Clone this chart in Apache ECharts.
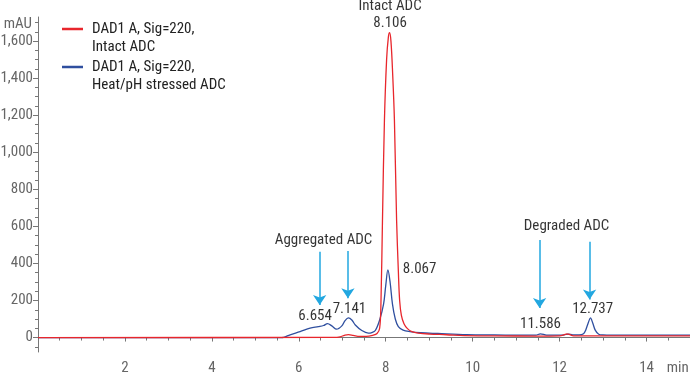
<!DOCTYPE html>
<html>
<head>
<meta charset="utf-8">
<script src="https://cdn.jsdelivr.net/npm/echarts@6.0.0/dist/echarts.min.js"></script>
<style>html,body{margin:0;padding:0;background:#fff;}#c{width:690px;height:372px;}</style>
</head>
<body>
<div id="c"></div>
<script>
// ---- data ----
const redName = 'DAD1 A, Sig=220, Intact ADC';
const blueName = 'DAD1 A, Sig=220, Heat/pH stressed ADC';

const redT = [0, 6.8, 6.95, 7.05, 7.14, 7.25, 7.4, 7.55, 7.7, 7.8, 7.86, 7.89, 7.925, 7.97, 8.02, 8.06, 8.088, 8.12, 8.16, 8.2, 8.25, 8.29, 8.32, 8.36, 8.42, 8.5, 8.6, 8.75, 9.0, 9.4, 9.8, 10.5, 11.5, 12.0, 12.1, 12.17, 12.25, 12.35, 13.0, 14.0, 15.0];
const redV = [0, 1, 4, 12, 16, 12, 6, 6, 12, 22, 50, 187, 633, 1172, 1500, 1620, 1645, 1600, 1420, 1172, 633, 360, 200, 120, 75, 48, 32, 24, 19, 15, 10, 9, 8, 9, 14, 20, 14, 9, 9, 9, 9];

const blueT = [0, 5.6, 5.65, 5.8, 6.03, 6.26, 6.45, 6.57, 6.66, 6.76, 6.87, 6.99, 7.06, 7.14, 7.22, 7.3, 7.45, 7.6, 7.68, 7.76, 7.86, 7.95, 8.0, 8.05, 8.1, 8.155, 8.22, 8.29, 8.4, 8.56, 8.8, 9.2, 9.87, 10.5, 11.0, 11.45, 11.56, 11.7, 12.0, 12.1, 12.2, 12.3, 12.45, 12.55, 12.6, 12.66, 12.71, 12.76, 12.82, 12.9, 13.0, 13.2, 14.0, 15.0];
const blueV = [0, 0, 1, 15, 32, 51, 59, 65, 75, 63, 45, 63, 90, 106, 95, 68, 38, 24, 27, 38, 95, 180, 280, 365, 300, 180, 100, 59, 40, 32, 26, 22, 16, 14, 13, 13, 20, 13, 13, 14, 19, 14, 14, 20, 40, 80, 106, 80, 40, 18, 14, 13, 13, 13];

// annotation texts (x, y in data units)
const noteText = ['Intact ADC', '8.106', 'Aggregated ADC', 'Degraded ADC', '6.654', '7.141', '8.067', '11.586', '12.737'];
const noteX    = [8.10, 8.10, 6.57, 12.16, 6.375, 7.165, 8.78, 11.56, 12.76];
const noteY    = [1787, 1695, 526, 602, 113, 153, 369, 74, 154];

// arrows
const arrowX   = [6.48, 7.13, 11.54, 12.69];
const arrowTop = [463, 467, 526, 517];
const arrowTip = [176, 212, 159, 206];

// axis ticks and labels
const yTickLabels = [0, 200, 400, 600, 800, 1000, 1200, 1400, 1600];
const xTickLabels = [2, 4, 6, 8, 10, 12, 14];
const xUnitAt = 14.72;         // where the "min" unit label sits on the time axis
const xUnitText = 'min';
const yUnitText = 'mAU';

const FONT = "'Liberation Sans Narrow', 'Roboto Condensed', 'DejaVu Sans Condensed', 'Liberation Sans', sans-serif";
const yMinor = []; for (let v = -50; v <= 1700; v += 50) yMinor.push(v);
const xMinor = []; for (let v = 0.5; v <= 14.5; v += 0.5) xMinor.push(v);

const zip = (a, b) => a.map((t, i) => [t, b[i]]);
const AX = '#777';

const legendBase = {
  left: 62, orient: 'vertical', padding: 0,
  icon: 'rect', itemWidth: 21, itemHeight: 2.5, selectedMode: false,
  textStyle: {fontSize: 15, lineHeight: 18, color: '#222', fontFamily: FONT, padding: [0, 0, 0, 4]}
};

const chart = echarts.init(document.getElementById('c'), null, {renderer: 'canvas'});
chart.setOption({
  backgroundColor: '#fff',
  animation: false,
  grid: {left: 38, right: 0, top: 17, bottom: 20, containLabel: false, outerBoundsMode: 'none'},
  legend: [
    Object.assign({}, legendBase, {data: [redName], top: 2,
      formatter: () => ' \nDAD1 A, Sig=220,\nIntact ADC'}),
    Object.assign({}, legendBase, {data: [blueName], top: 40,
      formatter: () => ' \nDAD1 A, Sig=220,\nHeat/pH stressed ADC'})
  ],
  xAxis: [
    {
      type: 'value', min: 0, max: 15, position: 'bottom',
      axisLine: {show: true, lineStyle: {color: AX, width: 1}},
      axisTick: {show: true, customValues: xTickLabels, length: 4, lineStyle: {color: AX}},
      axisLabel: {customValues: xTickLabels.concat([xUnitAt]), color: '#666', fontSize: 15, fontFamily: FONT, margin: 9,
        hideOverlap: false, showMaxLabel: true,
        formatter: v => (Math.abs(v - xUnitAt) < 1e-6 ? xUnitText : String(v))},
      splitLine: {show: false}
    },
    {
      type: 'value', min: 0, max: 15, position: 'bottom',
      axisLine: {show: false},
      axisTick: {show: true, customValues: xMinor, length: 3, lineStyle: {color: AX}},
      axisLabel: {show: false},
      splitLine: {show: false}
    }
  ],
  yAxis: [
    {
      type: 'value', min: -78, max: 1730, position: 'left',
      axisLine: {show: true, lineStyle: {color: AX, width: 1}},
      axisTick: {show: true, customValues: yTickLabels, length: 5, lineStyle: {color: AX}},
      axisLabel: {customValues: yTickLabels, color: '#666', fontSize: 15, fontFamily: FONT, margin: 5,
        formatter: v => v.toLocaleString('en-US')},
      splitLine: {show: false},
      name: yUnitText, nameLocation: 'end', nameGap: 0, nameMoveOverlap: false,
      nameTextStyle: {color: '#666', fontSize: 15, fontFamily: FONT, align: 'right', verticalAlign: 'top', padding: [0, 6, 0, 0]}
    },
    {
      type: 'value', min: -78, max: 1730, position: 'left',
      axisLine: {show: false},
      axisTick: {show: true, customValues: yMinor, length: 3, lineStyle: {color: AX}},
      axisLabel: {show: false},
      splitLine: {show: false}
    }
  ],
  series: [
    {
      name: blueName, type: 'line', data: zip(blueT, blueV), color: '#2f4f9f',
      showSymbol: false, smooth: 0.35, lineStyle: {width: 1.3, color: '#2f4f9f'}, z: 2, silent: true
    },
    {
      name: redName, type: 'line', data: zip(redT, redV), color: '#e8262c',
      showSymbol: false, smooth: 0.35, lineStyle: {width: 1.3, color: '#e8262c'}, z: 3, silent: true
    },
    {
      name: 'notes', type: 'scatter', symbolSize: 0, clip: false, silent: true, z: 5,
      data: noteX.map((x, i) => [x, noteY[i], noteText[i]]),
      label: {show: true, position: 'inside', formatter: p => p.data[2], color: '#000', fontSize: 15, fontFamily: FONT},
      markLine: {
        silent: true, symbol: ['none', 'arrow'], symbolSize: 10, animation: false,
        lineStyle: {color: '#22a7e0', width: 1.5, type: 'solid'},
        label: {show: false},
        emphasis: {disabled: true},
        data: arrowX.map((x, i) => [{coord: [x, arrowTop[i]]}, {coord: [x, arrowTip[i]]}])
      }
    }
  ]
});
</script>
</body>
</html>
